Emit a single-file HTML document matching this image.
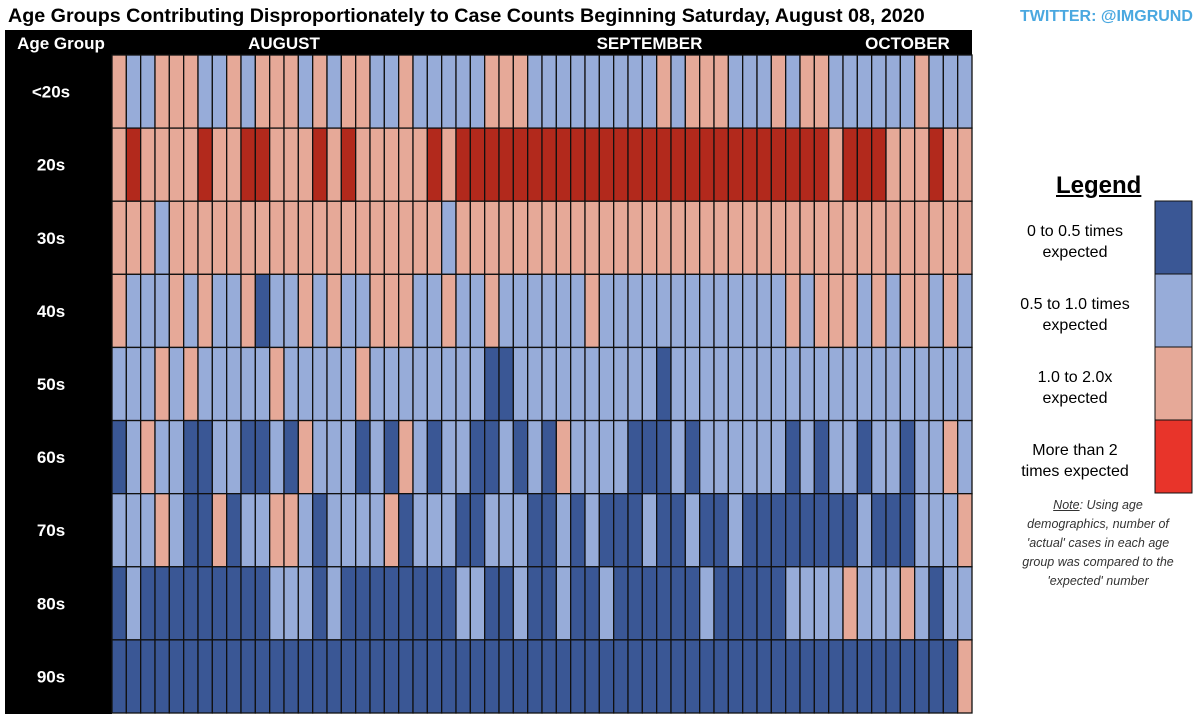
<!DOCTYPE html>
<html><head><meta charset="utf-8"><style>
body{margin:0;width:1200px;height:719px;background:#fff;font-family:"Liberation Sans",sans-serif;overflow:hidden;position:relative}
.t{position:absolute;white-space:nowrap}
</style></head><body>
<div class="t" style="left:8px;top:5px;font-size:19.7px;font-weight:bold;color:#000">Age Groups Contributing Disproportionately to Case Counts Beginning Saturday, August 08, 2020</div>
<div class="t" style="left:1020px;top:8px;font-size:16px;font-weight:bold;color:#4aa8e0">TWITTER: @IMGRUND</div>
<svg id="hm" width="1200" height="719" style="position:absolute;left:0;top:0"></svg>
<div class="t" style="left:1056px;top:172px;font-size:24px;font-weight:bold;text-decoration:underline">Legend</div>
<div class="t" style="left:1000px;top:221px;width:150px;text-align:center;font-size:16px;line-height:21px">0 to 0.5 times<br>expected</div>
<div class="t" style="left:1000px;top:294px;width:150px;text-align:center;font-size:16px;line-height:21px">0.5 to 1.0 times<br>expected</div>
<div class="t" style="left:1000px;top:367px;width:150px;text-align:center;font-size:16px;line-height:21px">1.0 to 2.0x<br>expected</div>
<div class="t" style="left:1000px;top:440px;width:150px;text-align:center;font-size:16px;line-height:21px">More than 2<br>times expected</div>
<div class="t" style="left:1012px;top:496px;width:172px;white-space:normal;text-align:center;font-size:12.5px;line-height:19px;font-style:italic;color:#333"><u>Note</u>: Using age demographics, number of 'actual' cases in each age group was compared to the 'expected' number</div>
<script>
const ageGroups=["<20s","20s","30s","40s","50s","60s","70s","80s","90s"];
const months=["AUGUST","SEPTEMBER","OCTOBER"];
const monthStartCol=[0,24,51];
const monthEndCol=[23,50,59];
const r0=[2,1,1,2,2,2,1,1,2,1,2,2,2,1,2,1,2,2,1,1, 2,1,1,1,1,1,2,2,2,1,1,1,1,1,1,1,1,1,2,1, 2,2,2,1,1,1,2,1,2,2,1,1,1,1,1,1,2,1,1,1];
const r1=[2,3,2,2,2,2,3,2,2,3,3,2,2,2,3,2,3,2,2,2, 2,2,3,2,3,3,3,3,3,3,3,3,3,3,3,3,3,3,3,3, 3,3,3,3,3,3,3,3,3,3,2,3,3,3,2,2,2,3,2,2];
const r2=[2,2,2,1,2,2,2,2,2,2,2,2,2,2,2,2,2,2,2,2, 2,2,2,1,2,2,2,2,2,2,2,2,2,2,2,2,2,2,2,2, 2,2,2,2,2,2,2,2,2,2,2,2,2,2,2,2,2,2,2,2];
const r3=[2,1,1,1,2,1,2,1,1,2,0,1,1,2,1,2,1,1,2,2, 2,1,1,2,1,1,2,1,1,1,1,1,1,2,1,1,1,1,1,1, 1,1,1,1,1,1,1,2,1,2,2,2,1,2,1,2,2,1,2,1];
const r4=[1,1,1,2,1,2,1,1,1,1,1,2,1,1,1,1,1,2,1,1, 1,1,1,1,1,1,0,0,1,1,1,1,1,1,1,1,1,1,0,1, 1,1,1,1,1,1,1,1,1,1,1,1,1,1,1,1,1,1,1,1];
const r5=[0,1,2,1,1,0,0,1,1,0,0,1,0,2,1,1,1,0,1,0, 2,1,0,1,1,0,0,1,0,1,0,2,1,1,1,1,0,0,0,1, 0,1,1,1,1,1,1,0,1,0,1,1,0,1,1,0,1,1,2,1];
const r6=[1,1,1,2,1,0,0,2,0,1,1,2,2,1,0,1,1,1,1,2, 0,1,1,1,0,0,1,1,1,0,0,1,0,1,0,0,0,1,0,0, 1,0,0,1,0,0,0,0,0,0,0,0,1,0,0,0,1,1,1,2];
const r7=[0,1,0,0,0,0,0,0,0,0,0,1,1,1,0,1,0,0,0,0, 0,0,0,0,1,1,0,0,1,0,0,1,0,0,1,0,0,0,0,0, 0,1,0,0,0,0,0,1,1,1,1,2,1,1,1,2,1,0,1,1];
const r8=[0,0,0,0,0,0,0,0,0,0,0,0,0,0,0,0,0,0,0,0, 0,0,0,0,0,0,0,0,0,0,0,0,0,0,0,0,0,0,0,0, 0,0,0,0,0,0,0,0,0,0,0,0,0,0,0,0,0,0,0,2];
const rows=[r0,r1,r2,r3,r4,r5,r6,r7,r8];
const palette=["#3a5795","#97acd9","#e6a998","#b2291c"];
const legendColors=["#3a5795","#97acd9","#e6a998","#e8342a"];
const NS="http://www.w3.org/2000/svg";
const svg=document.getElementById('hm');
const gx0=112,gx1=972,gy0=55,gy1=713;
const nCols=r0.length;
const cw=(gx1-gx0)/nCols, rh=(gy1-gy0)/ageGroups.length;
const xs=c=>gx0+c*cw, ys=r=>gy0+r*rh;
function mk(tag,a){const e=document.createElementNS(NS,tag);for(const k in a)e.setAttribute(k,a[k]);svg.appendChild(e);return e;}
let b=mk('rect',{x:5,y:30,width:967,height:25,fill:'#000'});


b=mk('rect',{x:5,y:30,width:107,height:684,fill:'#000'});


let t=mk('text',{x:61,y:49,'text-anchor':'middle',fill:'#fff','font-size':17,'font-weight':'bold','font-family':'Liberation Sans'});
t.textContent="Age Group";


months.forEach((m,i)=>{
 const tx=mk('text',{x:(xs(monthStartCol[i])+xs(monthEndCol[i]+1))/2,y:49,'text-anchor':'middle',fill:'#fff','font-size':17,'font-weight':'bold','font-family':'Liberation Sans'});
 tx.textContent=m;
 
 
});
ageGroups.forEach((g,r)=>{
 const tx=mk('text',{x:51,y:ys(r)+rh/2+6,'text-anchor':'middle',fill:'#fff','font-size':17,'font-weight':'bold','font-family':'Liberation Sans'});
 tx.textContent=g;
 
 
 rows[r].forEach((v,c)=>{
  const rc=mk('rect',{x:xs(c),y:ys(r),width:cw,height:rh,fill:palette[v],stroke:'#111','stroke-width':1.3});
  
  
 });
});
legendColors.forEach((col,i)=>{
 const rc=mk('rect',{x:1155,y:201+i*73,width:37,height:73,fill:col,stroke:'#111','stroke-width':1});
 
 
});
</script>
</body></html>
